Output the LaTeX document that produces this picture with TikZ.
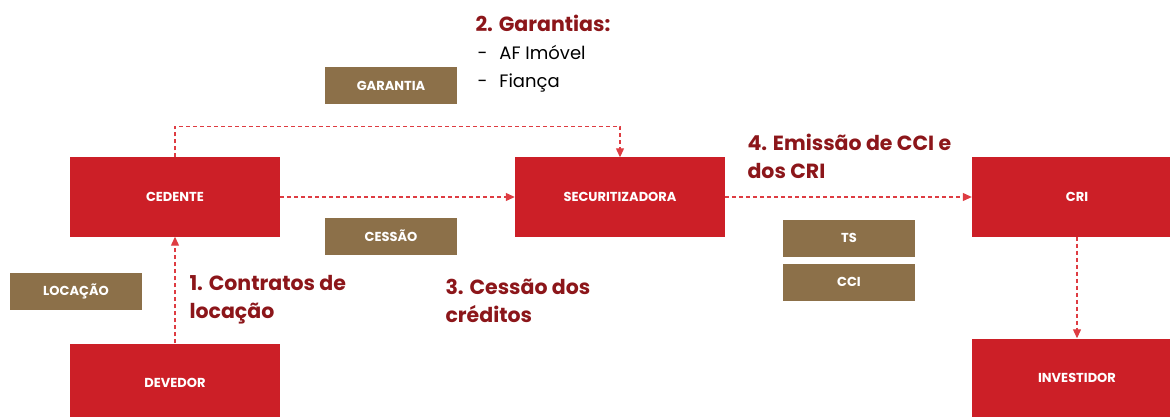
\documentclass[tikz,border=0pt]{standalone}
\usepackage{fontspec}
\setmainfont{Poppins}
\usetikzlibrary{arrows.meta}
\definecolor{boxred}{RGB}{204,31,39}
\definecolor{boxbrown}{RGB}{140,112,73}
\definecolor{linered}{RGB}{222,60,66}
\definecolor{labelred}{RGB}{140,22,26}
\tikzset{
  party/.style={fill=boxred, text=white, minimum width=210pt, minimum height=79pt,
    font=\fontsize{13}{15}\selectfont\bfseries},
  tag/.style={fill=boxbrown, text=white, minimum width=132pt, minimum height=37pt,
    font=\fontsize{13}{15}\selectfont\bfseries},
  flow/.style={linered, line width=1.2pt, dash pattern=on 4pt off 3pt,
    -{Triangle[length=9pt,width=8pt]}},
  steplabel/.style={labelred, align=left, anchor=north west,
    font=\fontsize{20.5}{28}\selectfont\bfseries}
}
\begin{document}
\begin{tikzpicture}[x=1pt, y=-1pt]
  \useasboundingbox (0, 0) rectangle (1170, 417);
  \clip (0, 0) rectangle (1170, 417);
  % partes
  \node[party] (ced) at (175, 197) {CEDENTE};
  \node[party] (sec) at (620, 197) {SECURITIZADORA};
  \node[party] (cri) at (1077, 197) {CRI};
  \node[party] (dev) at (175, 383) {DEVEDOR};
  \node[party] (inv) at (1077, 378) {INVESTIDOR};
  % etiquetas
  \node[tag] (gar) at (391, 86) {GARANTIA};
  \node[tag] (ces) at (391, 236) {CESSÃO};
  \node[tag] (loc) at (76, 291) {LOCAÇÃO};
  \node[tag] (ts) at (849, 238) {TS};
  \node[tag] (cci) at (849, 282) {CCI};
  % textos
  \node[steplabel] (t1) at (186, 272) {1. Contratos de\\locação};
  \node[steplabel] (t3) at (442, 276) {3. Cessão dos\\créditos};
  \node[steplabel] (t4) at (744, 131) {4. Emissão de CCI e\\dos CRI};
  \node[steplabel] (t2) at (472, 12) {2. Garantias:};
  \node[anchor=north west, align=left, font=\fontsize{18}{28}\selectfont] (lst)
    at (474, 42) {-\hspace{12pt}AF Imóvel\\-\hspace{12pt}Fiança};
  % fluxos
  \draw[flow] (ced.north) -- ++(0, -31) -| (sec.north);
  \draw[flow] (ced) -- (sec);
  \draw[flow] (sec) -- (cri);
  \draw[flow] (dev) -- (ced);
  \draw[flow] (cri) -- (inv);
\end{tikzpicture}
\end{document}
